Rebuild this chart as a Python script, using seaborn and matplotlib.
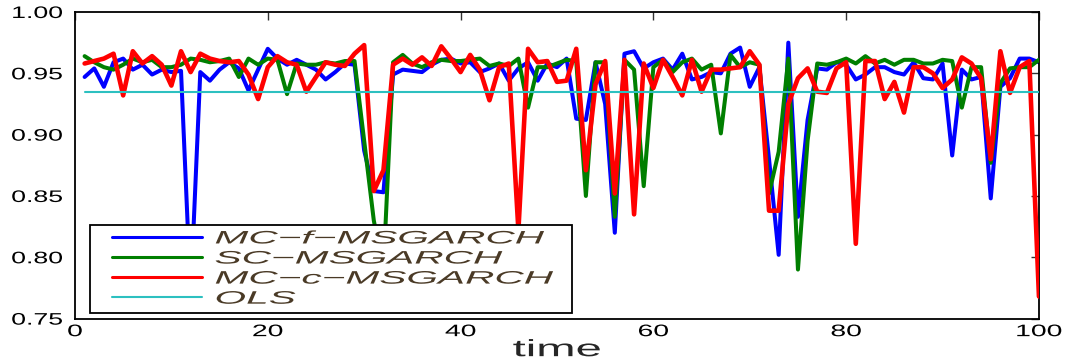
import matplotlib
matplotlib.use("Agg")
import matplotlib.pyplot as plt
import seaborn as sns
from matplotlib.patheffects import AbstractPathEffect
from matplotlib.transforms import Affine2D
from matplotlib.lines import Line2D
from matplotlib.legend_handler import HandlerLine2D

# ---------------- data ----------------
time = list(range(1, 101))

mc_f_msgarch = [
    0.947, 0.954, 0.939, 0.959, 0.962, 0.953, 0.957, 0.949, 0.953, 0.951,
    0.952, 0.770, 0.951, 0.944, 0.953, 0.959, 0.954, 0.936, 0.953, 0.970,
    0.962, 0.957, 0.961, 0.957, 0.953, 0.945, 0.951, 0.958, 0.957, 0.887,
    0.854, 0.853, 0.949, 0.953, 0.952, 0.951, 0.957, 0.961, 0.962, 0.958,
    0.959, 0.951, 0.954, 0.958, 0.944, 0.954, 0.959, 0.944, 0.958, 0.955,
    0.962, 0.913, 0.912, 0.959, 0.925, 0.820, 0.966, 0.968, 0.954, 0.959,
    0.962, 0.953, 0.966, 0.945, 0.947, 0.951, 0.950, 0.966, 0.971, 0.939,
    0.955, 0.880, 0.802, 0.975, 0.833, 0.912, 0.954, 0.953, 0.959, 0.957,
    0.945, 0.949, 0.955, 0.955, 0.951, 0.949, 0.959, 0.946, 0.945, 0.958,
    0.883, 0.953, 0.945, 0.947, 0.848, 0.939, 0.946, 0.962, 0.962, 0.959,
]

sc_msgarch = [
    0.964, 0.959, 0.955, 0.953, 0.957, 0.962, 0.959, 0.961, 0.955, 0.955,
    0.957, 0.962, 0.961, 0.959, 0.960, 0.962, 0.947, 0.962, 0.957, 0.962,
    0.961, 0.933, 0.958, 0.957, 0.957, 0.959, 0.958, 0.960, 0.960, 0.895,
    0.830, 0.790, 0.959, 0.965, 0.958, 0.955, 0.959, 0.961, 0.960, 0.960,
    0.961, 0.962, 0.956, 0.958, 0.956, 0.962, 0.922, 0.955, 0.955, 0.958,
    0.961, 0.960, 0.850, 0.959, 0.959, 0.833, 0.961, 0.953, 0.858, 0.955,
    0.961, 0.951, 0.959, 0.962, 0.953, 0.957, 0.901, 0.965, 0.955, 0.959,
    0.957, 0.852, 0.886, 0.962, 0.790, 0.895, 0.958, 0.957, 0.959, 0.962,
    0.958, 0.964, 0.958, 0.961, 0.957, 0.961, 0.961, 0.958, 0.958, 0.961,
    0.960, 0.922, 0.955, 0.955, 0.877, 0.942, 0.954, 0.955, 0.955, 0.961,
]

mc_c_msgarch = [
    0.958, 0.960, 0.962, 0.966, 0.932, 0.968, 0.958, 0.964, 0.957, 0.940,
    0.968, 0.951, 0.966, 0.962, 0.960, 0.959, 0.960, 0.949, 0.929, 0.955,
    0.964, 0.959, 0.957, 0.935, 0.947, 0.959, 0.957, 0.956, 0.966, 0.973,
    0.854, 0.871, 0.957, 0.962, 0.957, 0.963, 0.956, 0.972, 0.962, 0.951,
    0.965, 0.953, 0.928, 0.955, 0.958, 0.822, 0.970, 0.959, 0.960, 0.943,
    0.944, 0.970, 0.871, 0.941, 0.960, 0.852, 0.961, 0.835, 0.958, 0.938,
    0.961, 0.947, 0.932, 0.961, 0.935, 0.953, 0.953, 0.954, 0.955, 0.968,
    0.957, 0.838, 0.838, 0.925, 0.946, 0.954, 0.935, 0.934, 0.954, 0.959,
    0.811, 0.960, 0.960, 0.929, 0.943, 0.918, 0.955, 0.955, 0.950, 0.938,
    0.945, 0.963, 0.958, 0.946, 0.880, 0.968, 0.934, 0.955, 0.960, 0.768,
]

ols_level = 0.935
ols = [ols_level] * len(time)

series_labels = ["MC\u2212f\u2212MSGARCH", "SC\u2212MSGARCH", "MC\u2212c\u2212MSGARCH", "OLS"]
xticks = [0, 20, 40, 60, 80, 100]
yticks = [0.75, 0.80, 0.85, 0.90, 0.95, 1.00]
ytick_labels = ["0.75", "0.80", "0.85", "0.90", "0.95", "1.00"]
x_label = "time"


# ------------- horizontal text stretch (reference text is wide) -------------
class Stretch(AbstractPathEffect):
    def __init__(self, sx, anchor="left"):
        super().__init__()
        self.sx = sx
        self.anchor = anchor

    def draw_path(self, renderer, gc, tpath, affine, rgbFace=None):
        ext = tpath.get_extents()
        if self.anchor == "center":
            x0 = (ext.x0 + ext.x1) / 2.0
        elif self.anchor == "right":
            x0 = ext.x1
        else:
            x0 = 0.0
        aff = Affine2D().translate(-x0, 0).scale(self.sx, 1.0).translate(x0, 0) + affine
        renderer.draw_path(gc, tpath, aff, rgbFace)


# ---------------- style ----------------
sns.set_style("white")
plt.rcParams["font.family"] = ["Liberation Sans", "DejaVu Sans"]

fig = plt.figure(figsize=(10.68, 3.6), dpi=100)
ax = fig.add_axes([0.0702, 0.115, 0.9026, 0.8517])

sns.lineplot(x=time, y=mc_f_msgarch, ax=ax, color="#0000ff", lw=2.9,
             label=series_labels[0], zorder=2)
sns.lineplot(x=time, y=sc_msgarch, ax=ax, color="#007f00", lw=2.9,
             label=series_labels[1], zorder=3)
sns.lineplot(x=time, y=mc_c_msgarch, ax=ax, color="#ff0000", lw=3.3,
             label=series_labels[2], zorder=4)
sns.lineplot(x=time, y=ols, ax=ax, color="#2cc0c0", lw=1.5,
             label=series_labels[3], zorder=5)

ax.set_xlim(0, 100)
ax.set_ylim(0.75, 1.00)
ax.set_xticks(xticks)
ax.set_xticklabels([str(v) for v in xticks])
ax.set_yticks(yticks)
ax.set_yticklabels(ytick_labels)

for side in ["left", "right", "top", "bottom"]:
    ax.spines[side].set_visible(True)
    ax.spines[side].set_color("black")
    ax.spines[side].set_linewidth(1.3)

ax.tick_params(axis="both", which="major", direction="in", length=6, width=1.0,
               color="#333333", top=True, right=True, labelsize=12,
               labelcolor="black")
ax.tick_params(axis="x", pad=4)
ax.tick_params(axis="y", pad=9)

ax.set_xlabel(x_label, fontsize=17, labelpad=0)
ax.xaxis.label.set_path_effects([Stretch(2.0, "center")])

leg = ax.legend(
    loc="lower left",
    bbox_to_anchor=(0.0155, 0.018, 0.5, 0.277),
    mode="expand",
    borderaxespad=0.0,
    prop={"style": "italic", "size": 13},
    labelcolor="#4a3a26",
    labelspacing=0.17,
    borderpad=0.3,
    handlelength=5.9,
    handletextpad=0.7,
    frameon=True,
    fancybox=False,
    handler_map={Line2D: HandlerLine2D(xpad=0.9)},
)
leg.get_frame().set_edgecolor("black")
leg.get_frame().set_linewidth(1.3)
leg.get_frame().set_facecolor("white")
leg.get_frame().set_alpha(1.0)
leg.set_zorder(10)
for ln in leg.get_lines():
    ln.set_linewidth(2.2)
leg.get_lines()[-1].set_linewidth(1.5)
for txt in leg.get_texts():
    txt.set_path_effects([Stretch(2.25, "left")])

for lab in ax.get_xticklabels():
    lab.set_path_effects([Stretch(1.7, "center")])
for lab in ax.get_yticklabels():
    lab.set_path_effects([Stretch(1.6, "right")])

fig.savefig("out.png", dpi=100, facecolor="white")
